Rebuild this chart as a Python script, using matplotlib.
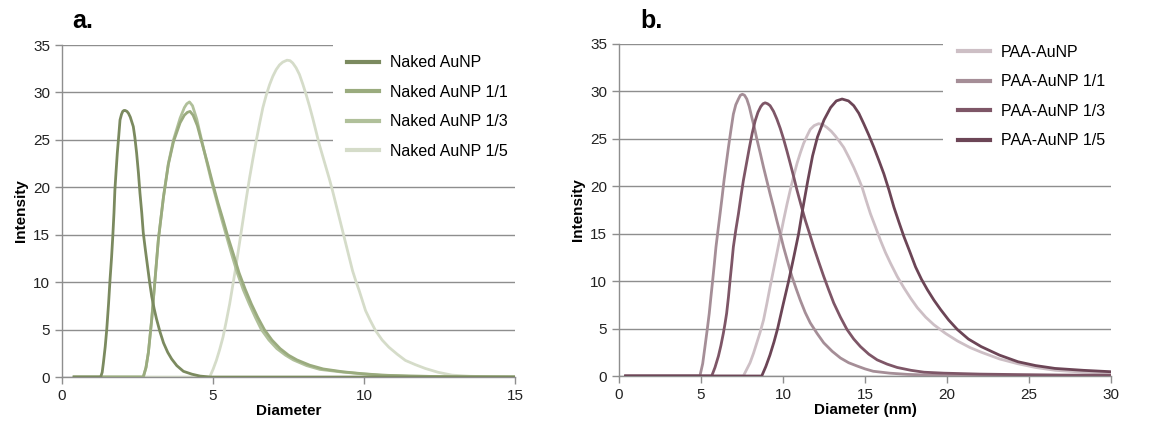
import matplotlib
matplotlib.use("Agg")
import matplotlib.pyplot as plt

plt.rcParams['font.family'] = ['Liberation Sans', 'DejaVu Sans']

# --- panel a: naked particles, diameter vs intensity ---
naked_x = [0.4, 1.0, 1.28, 1.33, 1.37, 1.43, 1.48, 1.54, 1.59, 1.64, 1.68, 1.72, 1.75, 1.79,
           1.83, 1.88, 1.92, 1.97, 2.01, 2.05, 2.09, 2.15, 2.20, 2.26, 2.31, 2.36, 2.41, 2.47,
           2.53, 2.58, 2.64, 2.69, 2.76, 2.83, 2.90, 2.97, 3.05, 3.13, 3.24, 3.36, 3.50, 3.63,
           3.80, 4.02, 4.30, 4.57, 4.90, 6.0, 8.0, 10.0, 12.0, 15.0]
naked_y = [0, 0, 0, 0.5, 1.5, 3.2, 5.0, 7.7, 10.3, 12.6, 14.8, 17.3, 19.7, 21.7,
           23.6, 25.5, 27.1, 27.7, 28.0, 28.1, 28.1, 28.0, 27.8, 27.4, 26.9, 26.4, 25.3, 23.6,
           21.5, 19.4, 17.3, 15.2, 13.4, 11.7, 10.0, 8.5, 7.2, 6.1, 4.8, 3.6, 2.6, 1.9,
           1.2, 0.6, 0.3, 0.1, 0, 0, 0, 0, 0, 0]

n11_x = [0.4, 2.0, 2.69, 2.78, 2.86, 2.97, 3.08, 3.19, 3.36, 3.52, 3.69, 3.91, 4.05, 4.15,
         4.24, 4.34, 4.48, 4.64, 4.82, 4.99, 5.16, 5.33, 5.50, 5.68, 5.86, 6.06, 6.27, 6.48,
         6.70, 6.95, 7.22, 7.50, 7.78, 8.20, 8.65, 9.30, 9.95, 10.6, 11.5, 12.5, 13.5, 15.0]
n11_y = [0, 0, 0, 1.0, 2.6, 6.1, 10.3, 14.5, 19.0, 22.4, 24.8, 26.8, 27.6, 27.9,
         28.0, 27.6, 26.5, 24.6, 22.5, 20.4, 18.4, 16.6, 14.7, 12.9, 11.0, 9.3, 7.7, 6.3,
         5.0, 3.9, 3.0, 2.3, 1.8, 1.25, 0.85, 0.55, 0.35, 0.2, 0.1, 0.05, 0.02, 0]

n13_x = [0.4, 2.0, 2.69, 2.78, 2.86, 2.97, 3.08, 3.19, 3.36, 3.52, 3.69, 3.91, 4.05, 4.13,
         4.22, 4.32, 4.46, 4.62, 4.79, 4.95, 5.12, 5.28, 5.45, 5.62, 5.80, 6.00, 6.20, 6.40,
         6.60, 6.85, 7.11, 7.40, 7.66, 8.10, 8.54, 9.20, 9.87, 10.5, 11.5, 12.5, 13.5, 15.0]
n13_y = [0, 0, 0, 1.0, 2.6, 6.1, 10.3, 14.5, 19.0, 22.5, 25.0, 27.3, 28.4, 28.8,
         29.0, 28.6, 27.2, 25.0, 22.7, 20.6, 18.6, 16.7, 14.8, 12.9, 11.0, 9.2, 7.7, 6.3,
         5.0, 3.9, 3.0, 2.3, 1.8, 1.2, 0.8, 0.55, 0.35, 0.2, 0.1, 0.05, 0.02, 0]

n15_x = [0.4, 3.0, 4.89, 5.00, 5.11, 5.22, 5.33, 5.44, 5.55, 5.66, 5.77, 5.88, 5.99, 6.10,
         6.21, 6.32, 6.43, 6.54, 6.65, 6.76, 6.87, 6.98, 7.09, 7.20, 7.31, 7.45, 7.55, 7.64,
         7.75, 7.86, 7.97, 8.08, 8.19, 8.30, 8.41, 8.52, 8.63, 8.74, 8.85, 8.96, 9.07, 9.18,
         9.29, 9.40, 9.51, 9.62, 9.73, 9.84, 9.95, 10.05, 10.2, 10.38, 10.6, 10.82, 11.1, 11.37,
         11.7, 12.03, 12.45, 12.91, 13.5, 14.2, 15.0]
n15_y = [0, 0, 0, 0.8, 1.75, 2.9, 4.2, 5.9, 7.7, 9.8, 11.9, 14.2, 16.5, 18.8,
         21.0, 23.0, 24.9, 26.7, 28.4, 29.7, 30.8, 31.7, 32.4, 32.9, 33.2, 33.4, 33.35, 33.1,
         32.6, 31.9, 30.9, 29.8, 28.6, 27.3, 25.9, 24.5, 23.3, 22.1, 20.9, 19.6, 18.2, 16.8,
         15.4, 14.0, 12.6, 11.2, 10.1, 9.1, 8.0, 7.0, 6.0, 4.9, 3.9, 3.15, 2.4, 1.75,
         1.3, 0.9, 0.5, 0.2, 0.08, 0.02, 0]

# --- panel b: PAA coated particles ---
paa_x = [0.4, 5.0, 7.58, 7.99, 8.20, 8.40, 8.60, 8.81, 9.01, 9.21, 9.42, 9.62, 9.83, 10.03,
         10.24, 10.44, 10.65, 10.85, 11.05, 11.25, 11.46, 11.66, 11.90, 12.17, 12.43, 12.68,
         12.94, 13.19, 13.45, 13.70, 14.00, 14.31, 14.56, 14.82, 15.07, 15.33, 15.64, 15.94,
         16.25, 16.55, 16.96, 17.37, 17.78, 18.19, 18.70, 19.20, 19.90, 20.63, 21.40, 22.10,
         23.20, 24.30, 25.40, 26.60, 28.30, 30.0]
paa_y = [0, 0, 0, 1.4, 2.4, 3.5, 4.6, 5.9, 7.6, 9.4, 11.2, 12.9, 14.7, 16.4,
         18.1, 19.6, 21.1, 22.4, 23.5, 24.5, 25.3, 26.0, 26.4, 26.6, 26.5, 26.2,
         25.8, 25.3, 24.7, 24.1, 23.1, 22.0, 21.0, 19.9, 18.5, 17.1, 15.7, 14.3,
         13.0, 11.9, 10.5, 9.3, 8.2, 7.2, 6.2, 5.4, 4.5, 3.7, 3.0, 2.5,
         1.8, 1.3, 0.9, 0.6, 0.4, 0.3]

p11_x = [0.4, 3.0, 4.93, 5.10, 5.24, 5.37, 5.50, 5.60, 5.71, 5.81, 5.91, 6.03, 6.16, 6.28,
         6.40, 6.53, 6.67, 6.82, 6.97, 7.12, 7.28, 7.40, 7.52, 7.65, 7.79, 7.94, 8.09, 8.25,
         8.40, 8.61, 8.81, 9.01, 9.21, 9.42, 9.62, 9.83, 10.03, 10.29, 10.54, 10.80, 11.05,
         11.35, 11.66, 12.07, 12.48, 13.0, 13.5, 14.0, 14.52, 15.0, 15.5, 16.5, 17.6, 19.8,
         22.0, 26.0, 30.0]
p11_y = [0, 0, 0, 1.3, 3.1, 4.8, 6.6, 8.3, 10.1, 11.8, 13.6, 15.3, 17.1, 18.8,
         20.6, 22.3, 24.1, 25.9, 27.6, 28.6, 29.2, 29.6, 29.7, 29.6, 29.2, 28.4, 27.3, 26.2,
         25.0, 23.5, 22.0, 20.6, 19.2, 17.8, 16.4, 15.0, 13.6, 12.0, 10.5, 9.2, 8.0,
         6.7, 5.6, 4.5, 3.5, 2.6, 1.9, 1.4, 1.05, 0.75, 0.5, 0.3, 0.17, 0.05,
         0.02, 0, 0]

p13_x = [0.4, 3.0, 5.65, 5.85, 6.06, 6.21, 6.36, 6.46, 6.56, 6.67, 6.77, 6.87, 6.97, 7.12,
         7.28, 7.43, 7.58, 7.77, 7.95, 8.12, 8.30, 8.47, 8.64, 8.78, 8.91, 9.06, 9.21, 9.42,
         9.62, 9.83, 10.03, 10.24, 10.44, 10.65, 10.85, 11.10, 11.36, 11.62, 11.87, 12.18,
         12.48, 12.78, 13.09, 13.50, 13.90, 14.31, 14.72, 15.23, 15.74, 16.35, 16.96, 17.80,
         18.60, 19.80, 22.0, 24.3, 27.0, 30.0]
p13_y = [0, 0, 0, 0.9, 2.1, 3.2, 4.5, 5.5, 6.6, 8.3, 10.1, 11.8, 13.6, 15.4,
         17.1, 18.9, 20.6, 22.4, 24.1, 25.6, 26.9, 27.8, 28.4, 28.7, 28.8, 28.7, 28.5, 27.9,
         27.1, 26.1, 25.0, 23.7, 22.4, 21.0, 19.6, 18.0, 16.4, 15.0, 13.6, 12.0,
         10.5, 9.1, 7.7, 6.2, 4.9, 3.9, 3.1, 2.3, 1.7, 1.25, 0.9, 0.6,
         0.4, 0.3, 0.2, 0.15, 0.1, 0.08]

p15_x = [0.4, 5.0, 8.70, 8.95, 9.20, 9.45, 9.67, 10.0, 10.34, 10.65, 10.95, 11.2, 11.5, 11.8,
         12.1, 12.5, 12.9, 13.25, 13.6, 13.99, 14.31, 14.62, 14.92, 15.23, 15.54, 15.85,
         16.15, 16.46, 16.76, 17.07, 17.37, 17.73, 18.08, 18.44, 18.80, 19.20, 19.61, 20.10,
         20.63, 21.30, 22.08, 23.20, 24.33, 25.40, 26.58, 28.30, 30.0]
p15_y = [0, 0, 0, 1.0, 2.2, 3.6, 5.0, 7.5, 10.0, 12.5, 15.0, 17.6, 20.5, 23.2,
         25.2, 27.0, 28.3, 29.0, 29.2, 29.0, 28.5, 27.7, 26.6, 25.4, 24.1, 22.7,
         21.3, 19.6, 17.8, 16.2, 14.7, 13.1, 11.5, 10.2, 9.1, 8.0, 7.0, 5.9,
         4.9, 3.9, 3.1, 2.2, 1.5, 1.1, 0.8, 0.6, 0.45]

green = ['#7b8a5f', '#9aab7e', '#b0c09a', '#d5dcc9']
plum = ['#cdbfc5', '#a58e97', '#7e5667', '#6c4556']
grid_col = '#8e8e8e'


def style_axes(ax, xmax, xstep):
    ax.set_xlim(0, xmax)
    ax.set_ylim(0, 35)
    ax.set_xticks(range(0, xmax + 1, xstep))
    ax.set_yticks(range(0, 36, 5))
    ax.grid(axis='y', color=grid_col, linewidth=1.0)
    ax.set_axisbelow(True)
    for s in ['top', 'right']:
        ax.spines[s].set_visible(False)
    for s in ['left', 'bottom']:
        ax.spines[s].set_color(grid_col)
        ax.spines[s].set_linewidth(1.0)
    ax.tick_params(axis='both', colors=grid_col, labelcolor='#222222',
                   labelsize=11, length=5, width=1.0, direction='out')
    ax.set_ylabel('Intensity', fontsize=11, fontweight='bold', labelpad=4)


fig = plt.figure(figsize=(11.53, 4.23), dpi=100)
ax_a = fig.add_axes([0.0538, 0.1087, 0.3929, 0.7849])
ax_b = fig.add_axes([0.5369, 0.1111, 0.4267, 0.7849])

lw = 2.0
ax_a.plot(naked_x, naked_y, color=green[0], lw=lw, label='Naked AuNP', zorder=5)
ax_a.plot(n11_x, n11_y, color=green[1], lw=lw, label='Naked AuNP 1/1', zorder=4)
ax_a.plot(n13_x, n13_y, color=green[2], lw=lw, label='Naked AuNP 1/3', zorder=3)
ax_a.plot(n15_x, n15_y, color=green[3], lw=lw, label='Naked AuNP 1/5', zorder=2)
style_axes(ax_a, 15, 5)
ax_a.set_xlabel('Diameter', fontsize=11, fontweight='bold', labelpad=1)

ax_b.plot(paa_x, paa_y, color=plum[0], lw=lw, label='PAA-AuNP', zorder=2)
ax_b.plot(p11_x, p11_y, color=plum[1], lw=lw, label='PAA-AuNP 1/1', zorder=3)
ax_b.plot(p13_x, p13_y, color=plum[2], lw=lw, label='PAA-AuNP 1/3', zorder=4)
ax_b.plot(p15_x, p15_y, color=plum[3], lw=lw, label='PAA-AuNP 1/5', zorder=5)
style_axes(ax_b, 30, 5)
ax_b.set_xlabel('Diameter (nm)', fontsize=11, fontweight='bold', labelpad=1)

for ax, x0, top in [(ax_a, 0.598, 1.012), (ax_b, 0.659, 1.04)]:
    leg = ax.legend(loc='upper left', bbox_to_anchor=(x0, top, 1.0 - x0 + 0.02, 0.0),
                    mode='expand', frameon=True, fontsize=11.5, handlelength=2.0,
                    handletextpad=0.7, labelspacing=0.9, borderpad=0.9,
                    borderaxespad=0.0, fancybox=False)
    leg.get_frame().set_facecolor('white')
    leg.get_frame().set_edgecolor('none')
    leg.get_frame().set_alpha(1.0)
    leg.set_zorder(1.5)
    for h in leg.get_lines():
        h.set_linewidth(3.0)

fig.text(0.0625, 0.95, 'a.', fontsize=18, fontweight='bold', va='center', ha='left')
fig.text(0.555, 0.95, 'b.', fontsize=18, fontweight='bold', va='center', ha='left')

fig.savefig('out.png', dpi=100)
